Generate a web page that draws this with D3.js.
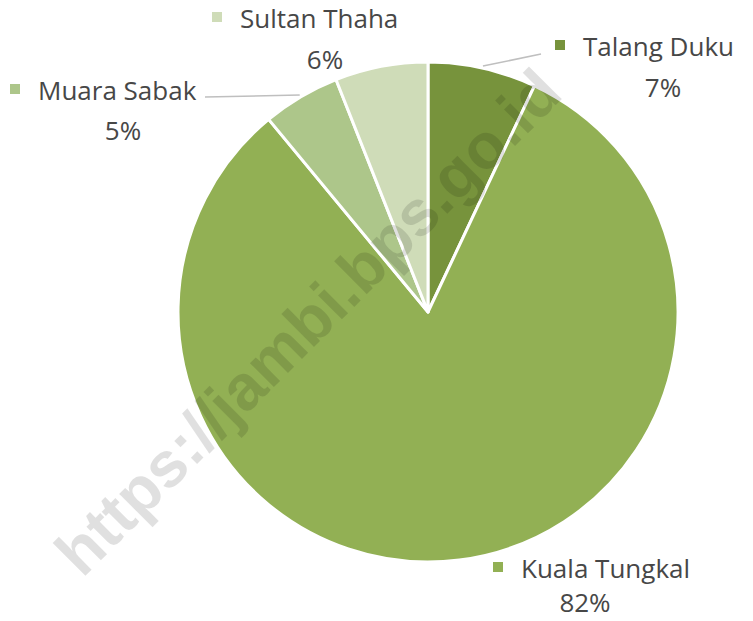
<!DOCTYPE html>
<html>
<head>
<meta charset="utf-8">
<script src="https://cdn.jsdelivr.net/npm/d3@7"></script>
<style>
  body { margin: 0; background: #fff; }
  svg { display: block; }
</style>
</head>
<body>
<div id="chart"></div>
<script>
// data
const categories = ["Talang Duku", "Kuala Tungkal", "Muara Sabak", "Sultan Thaha"];
const values = [7, 82, 5, 6];
const labels = ["7%", "82%", "5%", "6%"];
const colors = ["#77933c", "#92b054", "#adc68a", "#cfdcb8"];

const width = 753;
const height = 621;
const cx = 428, cy = 312, radius = 250;

const svg = d3.select("#chart").append("svg")
  .attr("width", width)
  .attr("height", height);

const g = svg.append("g").attr("transform", `translate(${cx},${cy})`);

const pie = d3.pie().sort(null).value(d => d.value);
const data = pie(categories.map((c, i) => ({ name: c, value: values[i], label: labels[i], color: colors[i] })));

const arc = d3.arc().innerRadius(0).outerRadius(radius);

g.selectAll("path")
  .data(data)
  .enter()
  .append("path")
  .attr("d", arc)
  .attr("fill", d => d.data.color)
  .attr("stroke", "#fff")
  .attr("stroke-width", 3)
  .attr("stroke-linejoin", "round");

// label boxes: square x, text baseline y, percent centre x / baseline y
const labelPos = {
  "Talang Duku": { x: 555, y: 56, px: 663, py: 97, line: [541, 54] },
  "Kuala Tungkal": { x: 493, y: 578, px: 585, py: 612 },
  "Muara Sabak": { x: 10, y: 100, px: 123, py: 140, line: [205, 97] },
  "Sultan Thaha": { x: 212, y: 28, px: 325, py: 69 }
};

const ring = d3.arc().innerRadius(radius + 2).outerRadius(radius + 2);

// leader lines
data.filter(d => labelPos[d.data.name].line).forEach(d => {
  const p = labelPos[d.data.name];
  const c = ring.centroid(d);
  svg.append("line")
    .attr("x1", cx + c[0]).attr("y1", cy + c[1])
    .attr("x2", p.line[0]).attr("y2", p.line[1])
    .attr("stroke", "#bfbfbf")
    .attr("stroke-width", 1.5);
});

const lab = svg.append("g")
  .style("font-family", "'Open Sans', 'Noto Sans', sans-serif")
  .style("font-size", "26px")
  .attr("fill", "#474747");

data.forEach(d => {
  const p = labelPos[d.data.name];
  lab.append("rect")
    .attr("x", p.x).attr("y", p.y - 16)
    .attr("width", 10).attr("height", 10)
    .attr("fill", d.data.color);
  lab.append("text")
    .attr("x", p.x + 28).attr("y", p.y)
    .text(d.data.name);
  lab.append("text")
    .attr("x", p.px).attr("y", p.py)
    .attr("text-anchor", "middle")
    .text(d.data.label);
});

// watermark
svg.append("text")
  .attr("transform", "translate(308,322) rotate(-45)")
  .attr("text-anchor", "middle")
  .attr("dominant-baseline", "central")
  .style("font-family", "'Liberation Sans', Arial, sans-serif")
  .style("font-weight", "bold")
  .style("font-size", "64px")
  .attr("fill", "rgba(0,0,0,0.12)")
  .text("https://jambi.bps.go.id");
</script>
</body>
</html>
